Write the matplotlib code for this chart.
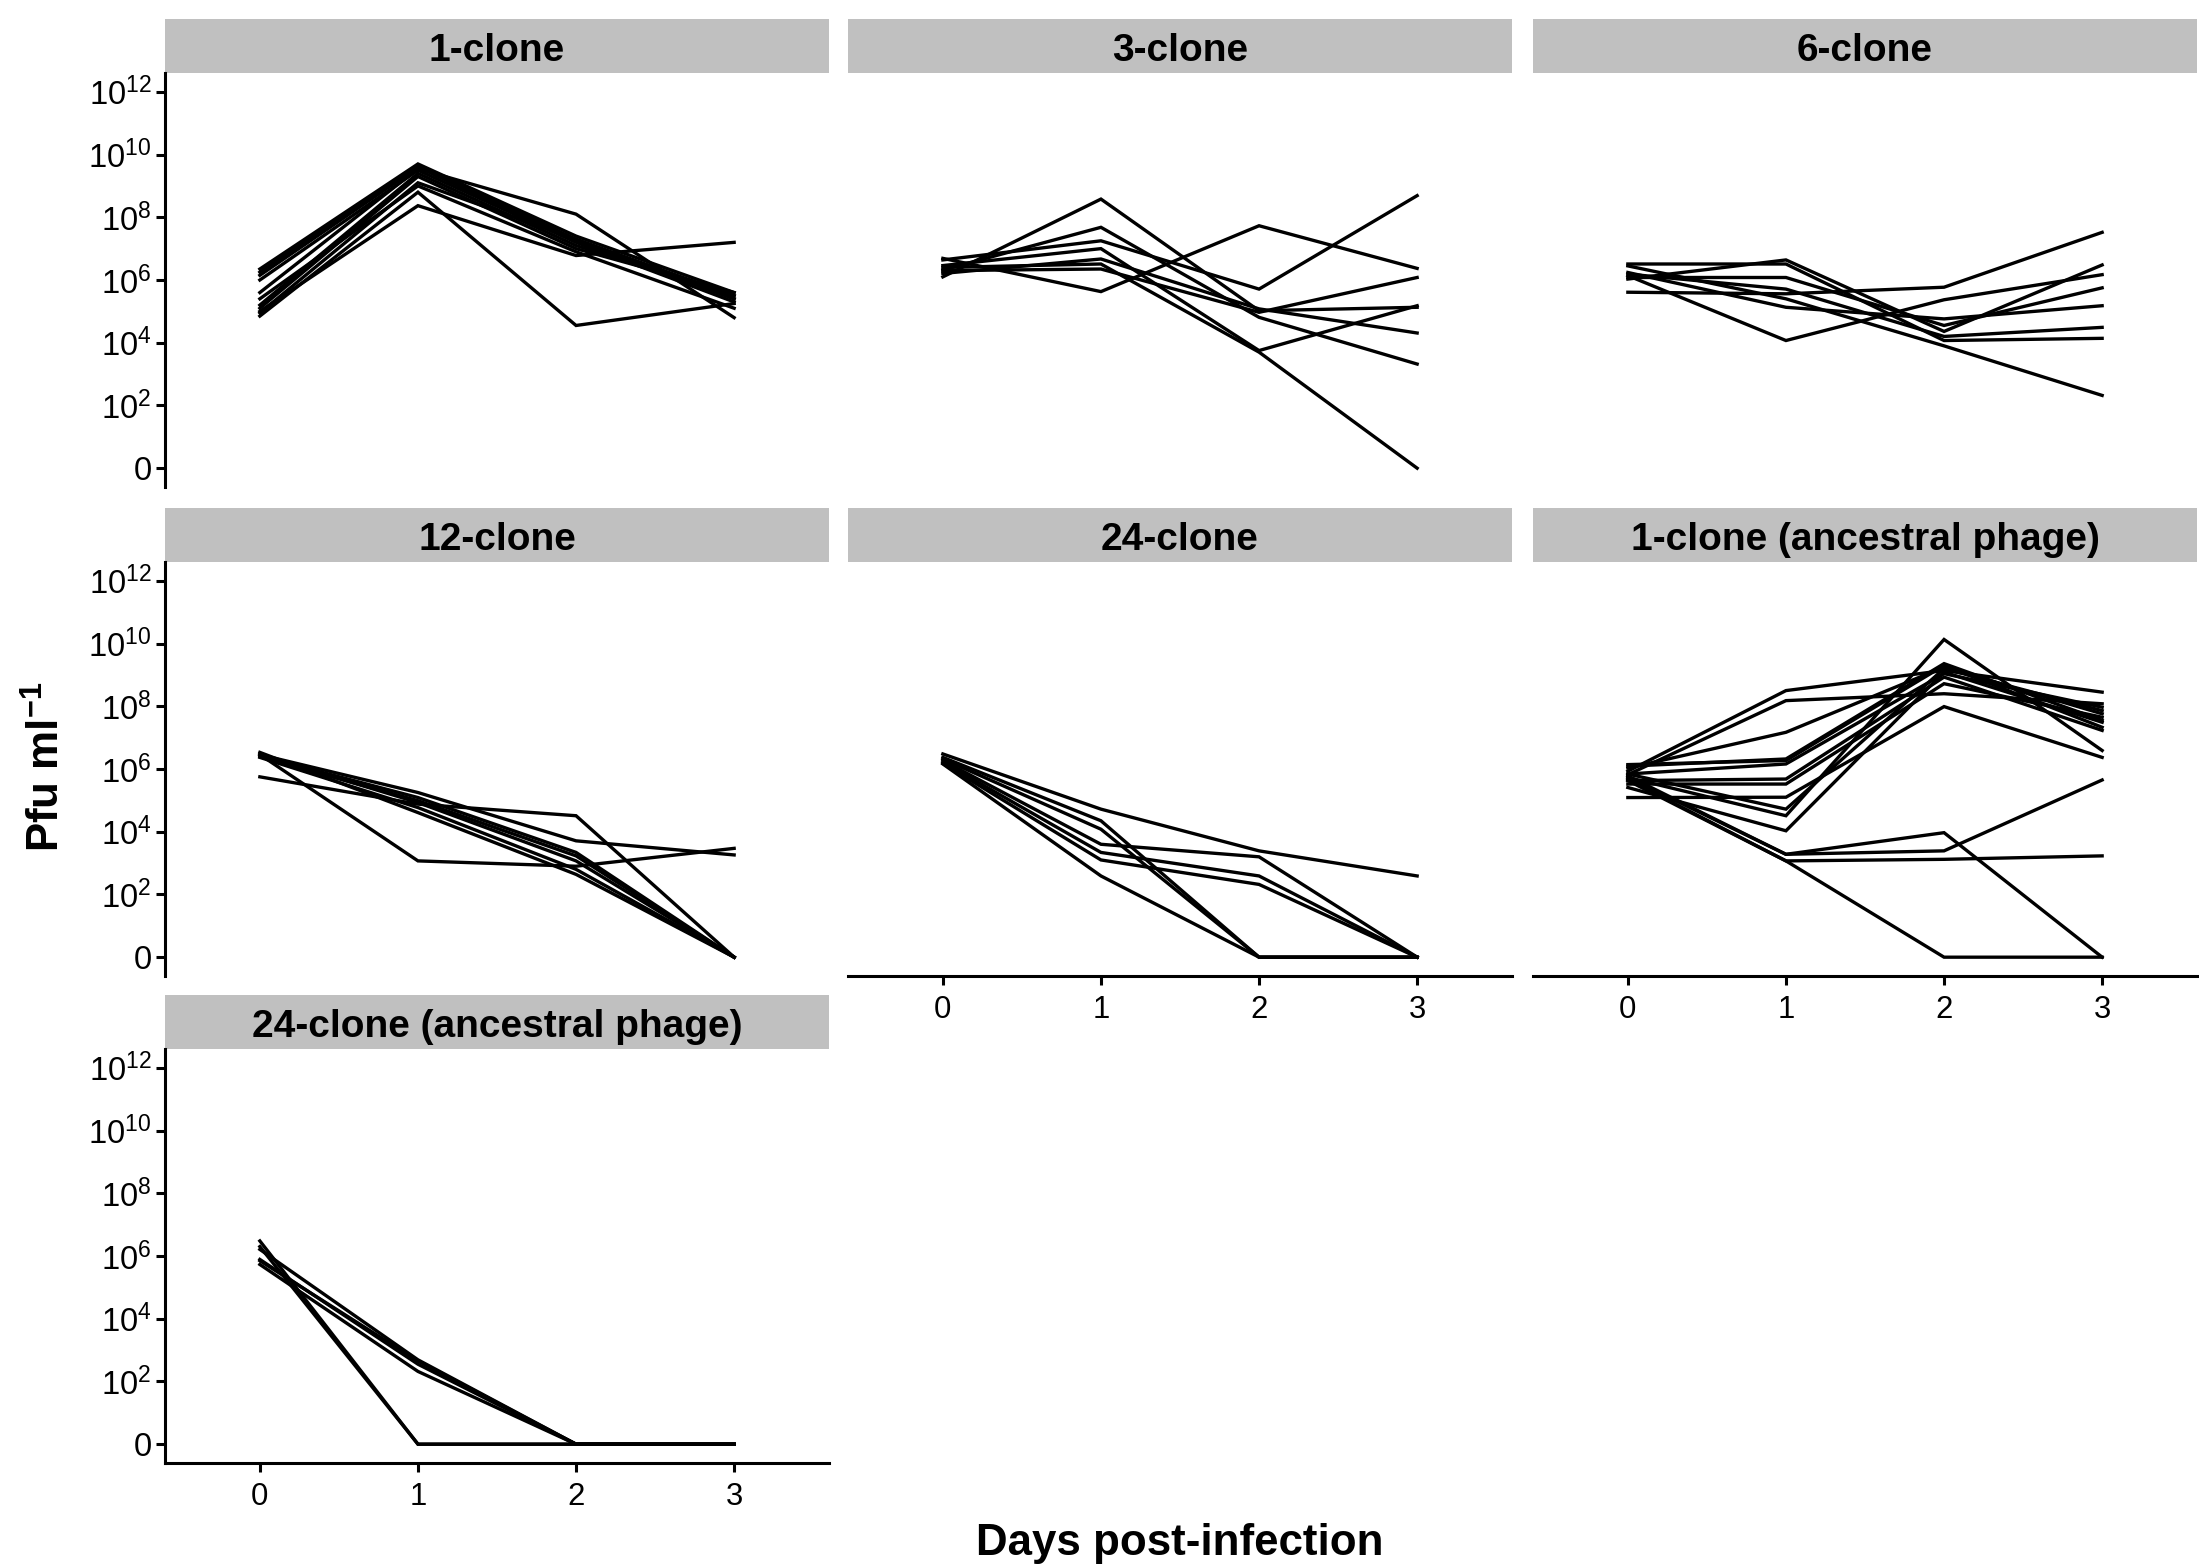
import matplotlib
matplotlib.use("Agg")
import matplotlib.pyplot as plt
from matplotlib.patches import Rectangle

plt.rcParams['font.family'] = ['Liberation Sans', 'DejaVu Sans']
plt.rcParams['mathtext.fontset'] = 'custom'
plt.rcParams['mathtext.rm'] = 'Liberation Sans'
plt.rcParams['mathtext.it'] = 'Liberation Sans:italic'
plt.rcParams['mathtext.bf'] = 'Liberation Sans:bold'

# ---- data: log10(Pfu/ml + 1) per replicate line, days 0..3 ----
days = [0, 1, 2, 3]

clone_1 = [
    [6.35, 9.70, 7.40, 5.60],
    [6.25, 9.65, 7.30, 5.50],
    [6.15, 9.60, 7.25, 5.40],
    [6.00, 9.50, 7.20, 5.30],
    [5.60, 9.55, 8.10, 4.80],
    [5.20, 9.40, 7.10, 5.50],
    [5.10, 9.30, 7.00, 5.60],
    [4.95, 9.10, 7.30, 5.40],
    [4.85, 8.80, 4.55, 5.25],
    [5.00, 8.37, 6.78, 7.20],
    [5.40, 9.00, 6.90, 5.10],
]

clone_3 = [
    [6.10, 8.58, 5.02, 5.13],
    [6.32, 7.68, 4.81, 3.32],
    [6.64, 7.25, 5.71, 8.69],
    [6.69, 5.63, 7.73, 6.37],
    [6.46, 7.00, 3.75, 5.18],
    [6.21, 6.67, 5.08, 4.31],
    [6.40, 6.51, 3.70, 0.00],
    [6.30, 6.35, 4.97, 6.08],
]

clone_6 = [
    [5.61, 5.56, 5.77, 7.52],
    [6.51, 6.51, 4.07, 4.14],
    [6.03, 6.64, 4.36, 6.48],
    [6.14, 4.07, 5.37, 6.17],
    [6.24, 5.13, 4.76, 5.18],
    [6.08, 6.08, 4.55, 5.75],
    [6.45, 5.40, 3.90, 2.32],
    [6.19, 5.71, 4.20, 4.49],
]

clone_12 = [
    [6.46, 3.07, 2.90, 3.47],
    [5.75, 4.88, 4.51, 0.00],
    [6.46, 5.25, 3.71, 3.26],
    [6.42, 5.09, 3.34, 0.00],
    [6.39, 4.99, 3.23, 0.00],
    [6.37, 4.77, 2.80, 0.00],
    [6.53, 4.61, 2.64, 0.00],
    [6.46, 4.93, 3.07, 0.00],
]

clone_24 = [
    [6.48, 4.72, 3.39, 2.59],
    [6.37, 4.35, 0.00, 0.00],
    [6.32, 4.08, 0.00, 0.00],
    [6.27, 3.60, 3.20, 0.00],
    [6.22, 3.34, 2.59, 0.00],
    [6.16, 2.59, 0.00, 0.00],
    [6.18, 3.10, 2.32, 0.00],
]

clone_1_anc = [
    [5.93, 8.50, 9.14, 8.45],
    [5.82, 8.18, 8.40, 8.08],
    [6.03, 7.17, 9.25, 7.76],
    [6.09, 6.32, 9.36, 7.55],
    [6.14, 6.27, 9.30, 7.33],
    [5.84, 6.16, 9.04, 7.97],
    [5.63, 5.68, 8.93, 7.23],
    [5.52, 5.52, 8.72, 7.65],
    [5.09, 5.10, 7.99, 6.37],
    [5.84, 4.72, 9.20, 7.86],
    [5.73, 4.51, 10.13, 6.59],
    [5.41, 4.03, 9.09, 7.49],
    [5.78, 3.28, 3.39, 5.65],
    [5.73, 3.28, 3.97, 0.00],
    [5.67, 3.07, 3.12, 3.23],
    [5.63, 3.07, 0.00, 0.00],
]

clone_24_anc = [
    [6.48, 0.00, 0.00, 0.00],
    [6.30, 0.00, 0.00, 0.00],
    [6.21, 2.69, 0.00, 0.00],
    [5.89, 2.55, 0.00, 0.00],
    [5.73, 2.32, 0.00, 0.00],
    [5.85, 2.65, 0.00, 0.00],
]

panel_titles = ["1-clone", "3-clone", "6-clone", "12-clone", "24-clone",
                "1-clone (ancestral phage)", "24-clone (ancestral phage)"]
panel_data = [clone_1, clone_3, clone_6, clone_12, clone_24, clone_1_anc, clone_24_anc]

y_ticks = [0, 2, 4, 6, 8, 10, 12]
y_ticklabels = ['0', r'$10^{2}$', r'$10^{4}$', r'$10^{6}$', r'$10^{8}$', r'$10^{10}$', r'$10^{12}$']
x_ticks = [0, 1, 2, 3]
x_ticklabels = ['0', '1', '2', '3']

# ---- layout ----
W, H = 2199, 1564
fig = plt.figure(figsize=(W / 200, H / 200), dpi=200)

col_left = [165, 848, 1533]
row_top = [73, 562, 1049]
pw, ph = 664, 414
strip_h = 54

# which panels show y axis / x axis (facet_wrap style)
show_y = [True, False, False, True, False, False, True]
show_x = [False, False, False, False, True, True, True]

for i, (title, data) in enumerate(zip(panel_titles, panel_data)):
    r, c = divmod(i, 3)
    left, top = col_left[c], row_top[r]
    ax = fig.add_axes([left / W, 1 - (top + ph) / H, pw / W, ph / H])
    for line in data:
        ax.plot(days, line, color='black', lw=1.2, solid_joinstyle='miter')
    ax.set_xlim(-0.6, 3.6)
    ax.set_ylim(-0.6, 12.6)
    for s in ['top', 'right']:
        ax.spines[s].set_visible(False)
    ax.spines['left'].set_visible(show_y[i])
    ax.spines['bottom'].set_visible(show_x[i])
    for s in ['left', 'bottom']:
        ax.spines[s].set_linewidth(1.1)
    ax.set_yticks(y_ticks)
    ax.set_xticks(x_ticks)
    if show_y[i]:
        ax.set_yticklabels(y_ticklabels)
        ax.tick_params(axis='y', length=3.3, width=1.1, pad=1.5, labelsize=11.8)
    else:
        ax.tick_params(axis='y', left=False, labelleft=False)
    if show_x[i]:
        ax.set_xticklabels(x_ticklabels)
        ax.tick_params(axis='x', length=3.3, width=1.1, pad=3.5, labelsize=11.2)
    else:
        ax.tick_params(axis='x', bottom=False, labelbottom=False)
    ax.patch.set_visible(False)
    # strip
    sh = strip_h / ph
    ax.add_patch(Rectangle((0, 1.0), 1, sh, transform=ax.transAxes,
                           facecolor='#C0C0C0', edgecolor='none', clip_on=False))
    ax.text(0.5, 1.0 + sh / 2 - 0.012, title, transform=ax.transAxes, ha='center',
            va='center', fontsize=14, fontweight='bold')

fig.text(1180 / W, 1 - 1543 / H, 'Days post-infection', ha='center', va='center',
         fontsize=15.8, fontweight='bold')
fig.text(47 / W, 1 - 767 / H, r'Pfu ml$^{\mathbf{-1}}$', ha='center', va='center',
         rotation=90, fontsize=15.8, fontweight='bold')

fig.savefig('out.png', dpi=200, facecolor='white')
